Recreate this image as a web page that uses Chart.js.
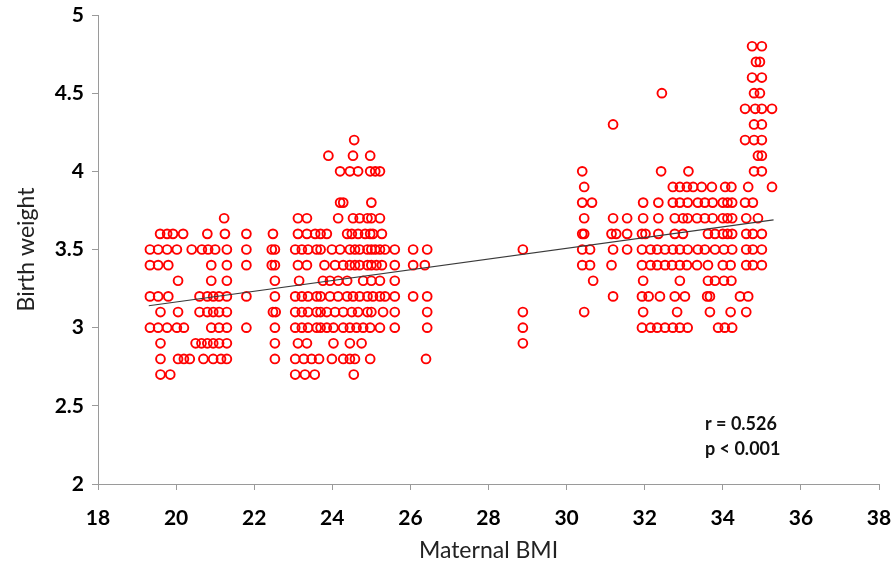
<!DOCTYPE html>
<html>
<head>
<meta charset="utf-8">
<title>Birth weight vs maternal BMI</title>
<script src="https://cdn.jsdelivr.net/npm/chart.js@4.4.1/dist/chart.umd.min.js"></script>
<style>
  html, body { margin: 0; padding: 0; background: #fff; }
  #wrap { width: 893px; height: 565px; }
</style>
</head>
<body>
<div id="wrap"><canvas id="bmi-chart" width="893" height="565"></canvas></div>
<script>
// birth weight levels (kg), one row of maternal BMI values for each level
const weightLevels = [2.7, 2.8, 2.9, 3.0, 3.1, 3.2, 3.3, 3.4, 3.5, 3.6, 3.7, 3.8, 3.9, 4.0, 4.1, 4.2, 4.3, 4.4, 4.5, 4.6, 4.7, 4.8];

const bmiByLevel = [
    // 2.7
    [19.6, 19.85, 23.05, 23.3, 23.55, 24.55],
    // 2.8
    [19.6, 20.05, 20.2, 20.35, 20.7, 20.95, 21.15, 21.3, 22.53, 23.05, 23.27, 23.47, 23.66, 23.99, 24.28, 24.45, 24.58, 24.97, 26.4],
    // 2.9
    [19.6, 20.5, 20.65, 20.8, 20.95, 21.1, 21.3, 22.53, 23.12, 23.35, 24.03, 24.45, 24.75, 28.88],
    // 3.0
    [19.33, 19.54, 19.77, 20.02, 20.2, 20.9, 21.1, 21.3, 21.8, 22.53, 23.05, 23.22, 23.38, 23.6, 23.7, 23.86, 24.03, 24.28, 24.45, 24.62, 24.79, 24.97, 25.22, 25.6, 26.43, 28.88,
     31.93, 32.15, 32.32, 32.52, 32.72, 32.9, 33.1, 33.88, 34.05, 34.24],
    // 3.1
    [19.6, 20.05, 20.6, 20.8, 20.95, 21.1, 21.3, 22.48, 22.55, 23.05, 23.22, 23.38, 23.6, 23.7, 23.86, 24.07, 24.28, 24.5, 24.66, 24.9, 25.0, 25.3, 25.6, 26.43, 28.88,
     30.45, 31.96, 32.83, 33.67, 34.2, 34.6],
    // 3.2
    [19.33, 19.54, 19.8, 20.6, 20.8, 20.95, 21.1, 21.3, 21.8, 22.53, 23.05, 23.22, 23.38, 23.6, 23.7, 23.94, 24.15, 24.38, 24.53, 24.7, 24.9, 25.04, 25.22, 25.35, 25.6, 26.07, 26.43,
     31.19, 31.93, 32.1, 32.39, 32.77, 33.03, 33.6, 33.67, 34.44, 34.65],
    // 3.3
    [20.05, 20.9, 21.3, 22.53, 23.15, 23.76, 23.94, 24.15, 24.38, 24.79, 25.0, 25.22, 25.6,
     30.68, 31.96, 32.9, 33.62, 33.8, 34.03, 34.22],
    // 3.4
    [19.33, 19.54, 19.8, 20.9, 21.3, 21.8, 22.45, 22.53, 23.12, 23.35, 23.8, 24.07, 24.28, 24.45, 24.58, 24.7, 24.9, 25.0, 25.13, 25.27, 25.6, 26.07, 26.37,
     30.4, 30.6, 31.15, 31.93, 32.15, 32.32, 32.52, 32.7, 32.9, 33.08, 33.34, 33.62, 34.0, 34.2, 34.6, 34.77, 35.0],
    // 3.5
    [19.33, 19.54, 19.77, 20.02, 20.4, 20.66, 20.82, 21.0, 21.3, 21.8, 22.45, 22.53, 23.05, 23.22, 23.38, 23.6, 23.7, 23.99, 24.2, 24.45, 24.58, 24.7, 24.9, 25.0, 25.1, 25.22, 25.35, 25.6, 26.07, 26.43, 28.88,
     30.4, 30.6, 31.19, 31.55, 31.93, 32.15, 32.32, 32.52, 32.72, 32.9, 33.1, 33.36, 33.54, 33.8, 34.03, 34.24, 34.6, 34.77, 35.0],
    // 3.6
    [19.59, 19.77, 19.92, 20.18, 20.8, 21.25, 21.8, 22.48, 23.12, 23.35, 23.56, 23.7, 23.86, 24.38, 24.5, 24.66, 24.84, 24.97, 25.04, 25.27,
     30.4, 30.45, 31.15, 31.27, 31.55, 31.93, 32.02, 32.35, 32.77, 32.98, 33.62, 33.8, 34.0, 34.12, 34.24, 34.6, 34.77, 35.0],
    // 3.7
    [21.23, 23.12, 23.35, 24.15, 24.53, 24.7, 24.9, 25.0, 25.22,
     30.45, 31.19, 31.55, 31.96, 32.35, 32.77, 32.98, 33.1, 33.34, 33.54, 33.74, 34.0, 34.12, 34.24, 34.6, 34.9],
    // 3.8
    [24.2, 24.28, 25.0,
     30.4, 30.65, 31.96, 32.35, 32.72, 32.9, 33.1, 33.36, 33.54, 33.74, 34.0, 34.12, 34.24, 34.57, 34.77],
    // 3.9
    [30.45, 32.72, 32.9, 33.08, 33.24, 33.46, 33.72, 34.06, 34.22, 34.65, 35.26],
    // 4.0
    [24.2, 24.45, 24.66, 24.97, 25.1, 25.22, 30.4, 32.42, 33.12, 34.8, 35.0],
    // 4.1
    [23.9, 24.53, 24.97, 34.9, 35.0],
    // 4.2
    [24.56, 34.57, 34.8, 35.0],
    // 4.3
    [31.19, 34.8, 35.0],
    // 4.4
    [34.57, 34.83, 35.0, 35.26],
    // 4.5
    [32.44, 34.8, 34.95],
    // 4.6
    [34.75, 35.0],
    // 4.7
    [34.85, 34.95],
    // 4.8
    [34.75, 35.0]
];

// fitted line as drawn in the figure
const trendBmi = [19.3, 35.3];
const trendWeight = [3.14, 3.69];

const statLines = ['r = 0.526', 'p < 0.001'];

const points = [];
weightLevels.forEach((w, i) => {
    bmiByLevel[i].forEach(b => points.push({ x: b, y: w }));
});

const trendPoints = trendBmi.map((b, i) => ({ x: b, y: trendWeight[i] }));

// r / p annotation, bottom right of the plot
const statsLabel = {
    id: 'statsLabel',
    afterDraw(chart) {
        const ctx = chart.ctx;
        ctx.save();
        ctx.font = 'bold 18px Lato';
        ctx.fillStyle = '#111';
        ctx.textBaseline = 'middle';
        ctx.fillText(statLines[0], 705, 424);
        ctx.fillText(statLines[1], 705, 449);
        ctx.restore();
    }
};

const axisColor = '#9a9a9a';
const tickFont = { family: 'Lato', size: 21, weight: 'bold' };
const titleFont = { family: 'Lato', size: 23 };

new Chart(document.getElementById('bmi-chart').getContext('2d'), {
    type: 'scatter',
    data: {
        datasets: [{
            type: 'line',
            label: 'Fit',
            data: trendPoints,
            borderColor: '#3a3a3a',
            borderWidth: 1.2,
            pointRadius: 0,
            fill: false
        }, {
            label: 'Births',
            data: points,
            pointStyle: 'circle',
            pointRadius: 4.4,
            pointBorderWidth: 1.9,
            borderColor: '#ff0000',
            backgroundColor: 'rgba(0,0,0,0)'
        }]
    },
    options: {
        responsive: false,
        animation: false,
        devicePixelRatio: 1,
        layout: { padding: { top: 15, right: 14, left: 0, bottom: 0 } },
        plugins: {
            legend: { display: false },
            tooltip: { enabled: false }
        },
        scales: {
            x: {
                type: 'linear',
                min: 18,
                max: 38,
                afterFit: s => { s.height = 81; s.paddingLeft = 0; s.paddingRight = 0; },
                ticks: { stepSize: 2, font: tickFont, color: '#000', padding: 16 },
                grid: { drawOnChartArea: false, drawTicks: true, tickLength: 6, color: axisColor },
                border: { color: axisColor, width: 1 },
                title: { display: true, text: 'Maternal BMI', font: titleFont, color: '#222', padding: { top: 0, bottom: 1 } }
            },
            y: {
                min: 2,
                max: 5,
                afterFit: s => { s.width = 98; s.paddingTop = 0; s.paddingBottom = 0; },
                ticks: { stepSize: 0.5, font: tickFont, color: '#000', padding: 8, callback: v => String(v) },
                grid: { drawOnChartArea: false, drawTicks: true, tickLength: 6, color: axisColor },
                border: { color: axisColor, width: 1 },
                title: { display: true, text: 'Birth weight', font: titleFont, color: '#222', padding: { top: 13, bottom: 0 } }
            }
        }
    },
    plugins: [statsLabel]
});
</script>
</body>
</html>
